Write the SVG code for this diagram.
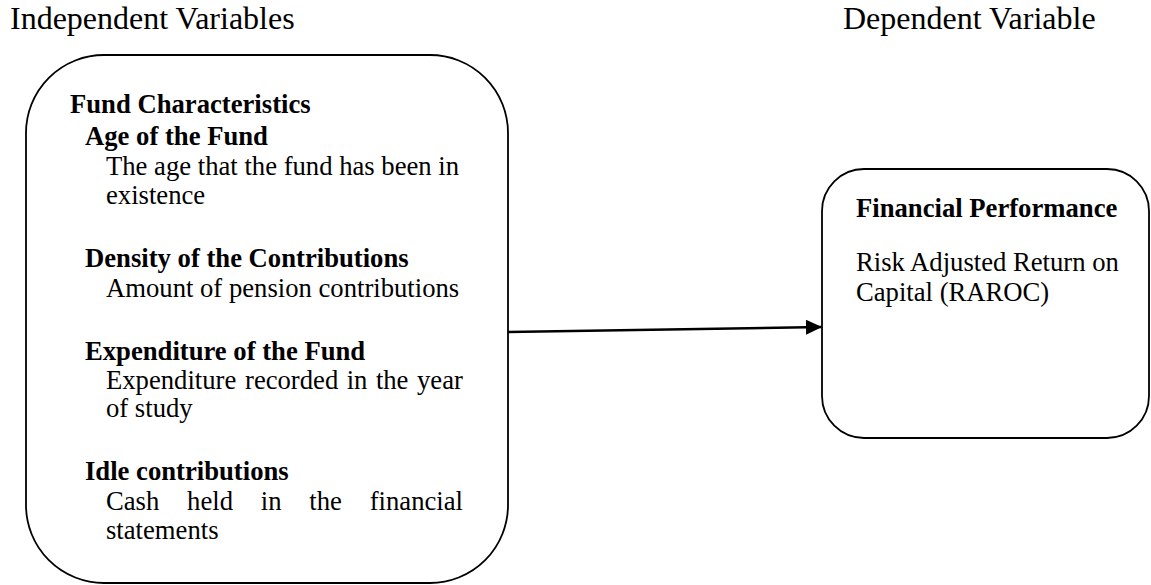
<svg xmlns="http://www.w3.org/2000/svg" width="1151" height="585" viewBox="0 0 1151 585">
  <style>
    text { font-family: "Liberation Serif", "Times New Roman", serif; fill: #000; }
    .h { font-size: 32px; }
    .t { font-size: 26.67px; }
    .b { font-size: 26.67px; font-weight: bold; }
    .box { fill: #fff; stroke: #000; stroke-width: 1.8; }
    .conn { fill: none; stroke: #000; stroke-width: 2.5; }
  </style>
  <defs>
    <marker id="arrow" markerUnits="userSpaceOnUse" markerWidth="17" markerHeight="15" refX="16" refY="7.5" orient="auto">
      <path d="M0,0 L16,7.5 L0,15 Z" fill="#000"/>
    </marker>
  </defs>
  <rect width="1151" height="585" fill="#fff"/>

  <g id="headings">
    <text class="h" x="10" y="29">Independent Variables</text>
    <text class="h" x="843" y="29">Dependent Variable</text>
  </g>

  <g id="node-fund-characteristics">
    <rect class="box" x="26" y="55" width="482" height="528" rx="78" ry="78"/>
    <text class="b" x="70" y="113">Fund Characteristics</text>
    <text class="b" x="85" y="145">Age of the Fund</text>
    <text class="t" x="106" y="175">The age that the fund has been in</text>
    <text class="t" x="106" y="204">existence</text>
    <text class="b" x="85" y="267">Density of the Contributions</text>
    <text class="t" x="106" y="297">Amount of pension contributions</text>
    <text class="b" x="85" y="360">Expenditure of the Fund</text>
    <text class="t" y="389"><tspan x="106">Expenditure</tspan><tspan x="245">recorded</tspan><tspan x="346.7">in</tspan><tspan x="375.9">the</tspan><tspan x="417">year</tspan></text>
    <text class="t" x="106" y="417">of study</text>
    <text class="b" x="85" y="480">Idle contributions</text>
    <text class="t" y="510"><tspan x="106">Cash</tspan><tspan x="187.1">held</tspan><tspan x="260.8">in</tspan><tspan x="309.3">the</tspan><tspan x="369.7">financial</tspan></text>
    <text class="t" x="106" y="539">statements</text>
  </g>

  <g id="node-financial-performance">
    <rect class="box" x="822" y="169" width="327" height="269" rx="42" ry="42"/>
    <text class="b" x="856" y="217">Financial Performance</text>
    <text class="t" x="856" y="271">Risk Adjusted Return on</text>
    <text class="t" x="856" y="301">Capital (RAROC)</text>
  </g>

  <g id="connectors">
    <path class="conn" d="M508,332 L822,327" marker-end="url(#arrow)"/>
  </g>
</svg>
